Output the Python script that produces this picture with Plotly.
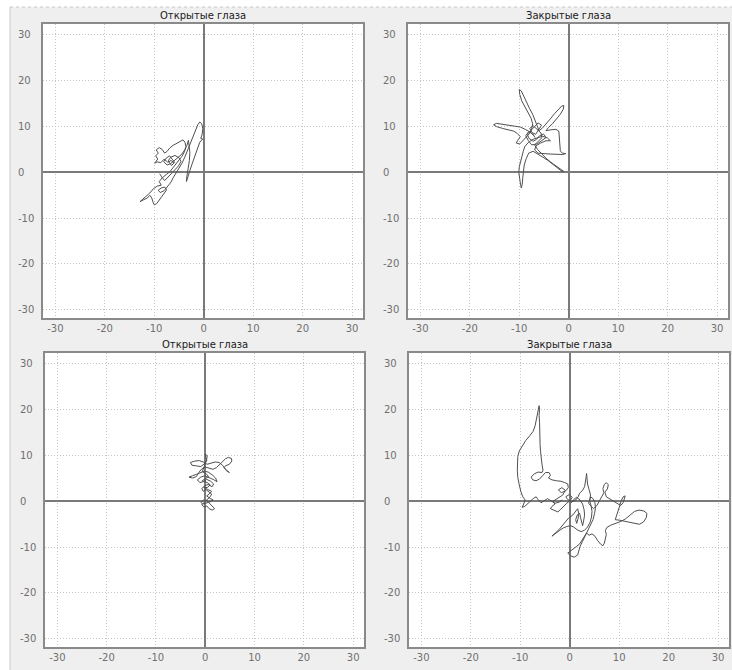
import plotly.graph_objects as go

# Stabilogram traces (centre-of-pressure path), mm
titles = ["Открытые глаза", "Закрытые глаза", "Открытые глаза", "Закрытые глаза"]
tick_vals = [-30, -20, -10, 0, 10, 20, 30]
tick_text = ["-30", "-20", "-10", "0", "10", "20", "30"]

# top-left: eyes open, session 1 (x, y)
tl_path = [(-6.0, 2.0), (-6.6, 2.6), (-7.3, 2.2), (-8.0, 2.9), (-8.7, 2.1), (-9.4, 2.3), (-9.9, 2.0),
           (-9.3, 2.9), (-9.7, 3.6), (-9.2, 4.2), (-9.6, 4.9), (-9.0, 5.4), (-8.4, 5.0), (-7.9, 4.2),
           (-7.4, 4.6), (-6.9, 5.3), (-6.2, 5.9), (-5.5, 6.3), (-4.8, 6.8), (-4.2, 7.1), (-3.8, 6.6),
           (-3.6, 5.6), (-3.9, 4.5), (-4.4, 3.5), (-5.0, 2.7), (-5.6, 1.8), (-6.2, 1.0), (-6.8, 0.2),
           (-7.6, -0.5), (-8.4, -1.2), (-9.0, -2.0), (-8.6, -2.8), (-9.4, -3.0), (-10.2, -3.6),
           (-10.9, -4.5), (-11.7, -5.3), (-12.5, -6.0), (-12.9, -6.4), (-12.2, -6.0), (-11.4, -5.6),
           (-10.9, -5.0), (-10.5, -5.6), (-10.3, -6.4), (-10.0, -7.1), (-9.5, -6.8), (-9.0, -6.1),
           (-8.6, -5.4), (-8.0, -4.6), (-7.5, -3.8), (-7.9, -3.2), (-8.6, -3.4), (-9.2, -3.9),
           (-8.8, -4.4), (-8.0, -4.0), (-7.2, -3.0), (-6.6, -2.1), (-6.2, -1.2), (-5.6, -0.2),
           (-5.0, 0.8), (-4.4, 2.0), (-3.8, 3.4), (-3.2, 5.0), (-2.6, 6.6), (-2.1, 8.0), (-1.6, 9.4),
           (-1.2, 10.4), (-0.8, 11.0), (-0.4, 10.6), (-0.2, 9.6), (-0.3, 8.4), (-0.6, 7.4), (-0.2, 7.3),
           (-0.8, 6.6), (-1.3, 5.2), (-1.8, 3.6), (-2.3, 2.0), (-2.8, 0.4), (-3.2, -1.0), (-3.5, -2.0),
           (-3.4, -0.8), (-3.1, 0.9), (-2.9, 2.6), (-2.8, 4.4), (-2.9, 6.0), (-3.1, 7.0), (-3.4, 5.9),
           (-3.9, 4.8), (-4.6, 3.8), (-5.3, 3.1), (-6.0, 2.6), (-6.7, 1.9), (-7.4, 1.6), (-8.1, 2.3),
           (-7.6, 3.1), (-6.9, 3.6), (-6.4, 2.9), (-5.9, 2.2), (-6.5, 1.5), (-7.2, 2.5), (-6.7, 3.3),
           (-5.8, 3.7), (-5.0, 3.2), (-4.6, 2.4), (-5.1, 1.4), (-5.8, 0.6), (-6.6, -0.3), (-7.3, -1.1),
           (-7.9, -1.8), (-8.5, -1.0), (-8.9, -0.3)]

# top-right: eyes closed, session 1
tr_path = [(-7.0, 8.0), (-7.8, 8.8), (-8.8, 9.4), (-9.8, 9.9), (-11.0, 10.1), (-12.2, 10.3), (-13.5, 10.6),
           (-14.6, 10.7), (-15.2, 10.4), (-14.6, 10.0), (-13.4, 9.6), (-12.2, 9.3), (-11.1, 9.0),
           (-10.4, 8.5), (-9.8, 7.8), (-10.3, 7.0), (-10.6, 6.4), (-9.9, 6.2), (-9.3, 6.9), (-8.7, 7.6),
           (-8.0, 8.4), (-7.5, 9.4), (-7.3, 10.6), (-7.6, 11.8), (-8.2, 13.0), (-8.9, 14.3), (-9.5, 15.6),
           (-9.9, 17.0), (-10.0, 18.1), (-9.6, 17.8), (-9.1, 16.6), (-8.5, 15.2), (-7.9, 13.9), (-7.3, 12.7),
           (-6.8, 11.4), (-6.4, 10.2), (-6.0, 9.1), (-5.3, 9.7), (-4.5, 10.6), (-3.7, 11.7), (-2.9, 12.8),
           (-2.1, 13.8), (-1.4, 14.5), (-1.0, 14.6), (-1.1, 13.8), (-1.7, 12.7), (-2.5, 11.6), (-3.3, 10.6),
           (-4.1, 9.8), (-4.6, 9.1), (-3.6, 9.3), (-2.6, 9.4), (-2.0, 9.0), (-1.9, 8.0), (-1.8, 6.9),
           (-1.7, 5.8), (-1.7, 4.7), (-1.3, 4.2), (-0.6, 4.1), (-1.2, 3.9), (-2.4, 3.9), (-3.7, 4.0),
           (-5.0, 4.1), (-6.2, 4.2), (-6.9, 4.9), (-6.6, 5.8), (-5.7, 6.4), (-4.6, 6.9), (-3.7, 6.9),
           (-4.3, 7.5), (-5.3, 7.9), (-6.3, 7.6), (-7.3, 7.2), (-8.2, 6.5), (-8.9, 5.6), (-9.2, 4.6),
           (-9.5, 3.5), (-9.8, 2.4), (-10.0, 1.2), (-10.1, 0.0), (-10.0, -1.1), (-9.8, -2.2), (-9.6, -3.4),
           (-9.4, -2.6), (-9.3, -1.2), (-9.2, 0.2), (-9.0, 1.6), (-8.6, 3.0), (-8.1, 4.2), (-7.2, 4.6),
           (-6.2, 4.0), (-5.2, 3.3), (-4.2, 2.6), (-3.2, 1.8), (-2.3, 1.0), (-1.6, 0.4), (-1.0, 0.2),
           (-1.7, 0.7), (-2.6, 1.4), (-3.6, 2.2), (-4.6, 3.1), (-5.5, 4.0), (-6.3, 5.0), (-6.9, 6.0),
           (-6.2, 6.8), (-5.4, 7.6), (-5.6, 8.6), (-6.4, 9.4), (-7.2, 10.2), (-7.9, 9.6), (-7.4, 8.7),
           (-6.7, 8.3), (-6.1, 9.3), (-5.5, 10.3), (-6.2, 10.8), (-7.0, 10.0), (-7.8, 9.0), (-8.4, 8.3),
           (-8.0, 7.4), (-7.2, 6.8), (-6.5, 7.2), (-5.9, 8.0), (-5.1, 8.4), (-4.6, 7.6), (-5.4, 6.9),
           (-6.4, 6.2), (-7.5, 6.0), (-8.2, 7.0), (-8.7, 8.0), (-8.1, 8.9), (-7.3, 8.4), (-6.8, 7.6)]

# bottom-left: eyes open, session 2
bl_path = [(0.5, 0.0), (1.0, -0.6), (1.6, -1.1), (1.9, -1.6), (1.4, -1.9), (0.8, -1.6), (0.3, -1.0),
           (-0.3, -1.2), (-0.7, -0.7), (-0.2, -0.2), (0.4, 0.4), (1.0, 1.0), (1.3, 1.6), (0.7, 2.1),
           (0.1, 2.6), (-0.4, 2.2), (-0.7, 2.8), (-0.1, 3.4), (0.6, 3.7), (1.4, 3.2), (1.7, 3.8),
           (1.1, 4.4), (0.3, 4.8), (-0.4, 4.3), (-1.1, 4.1), (-1.6, 4.7), (-0.9, 5.3), (-0.1, 5.6),
           (0.8, 5.2), (1.6, 4.8), (2.4, 4.3), (2.1, 5.1), (1.4, 5.8), (0.6, 6.4), (-0.2, 6.6),
           (-1.0, 6.2), (-1.8, 5.9), (-2.6, 5.6), (-3.3, 5.3), (-2.6, 5.1), (-1.8, 5.4), (-1.3, 6.3),
           (-0.8, 7.0), (0.0, 7.5), (0.8, 7.3), (1.6, 7.0), (2.3, 7.4), (2.9, 8.1), (3.5, 8.8),
           (4.1, 9.3), (4.7, 9.6), (5.3, 9.4), (5.4, 8.8), (4.9, 8.1), (4.2, 7.8), (3.8, 7.4),
           (4.3, 6.8), (4.9, 6.3), (4.3, 6.7), (3.5, 7.9), (2.8, 8.5), (2.0, 8.6), (1.2, 8.3),
           (0.4, 8.1), (-0.4, 8.6), (-1.2, 8.9), (-2.1, 8.8), (-3.0, 8.5), (-2.7, 7.9), (-1.8, 7.7),
           (-0.9, 7.6), (-0.2, 8.2), (0.3, 8.9), (0.1, 9.6), (0.0, 10.3), (0.4, 10.0), (0.3, 9.2),
           (0.0, 8.2), (-0.4, 7.3), (-0.6, 6.5), (0.2, 6.0), (0.7, 5.4), (-0.1, 4.9), (-0.6, 4.5),
           (0.4, 4.1), (1.0, 3.6), (0.4, 3.0), (-0.3, 3.1), (0.5, 2.6), (1.3, 2.2), (0.8, 1.6),
           (0.3, 1.2), (0.9, 0.7), (1.6, 0.3), (1.0, -0.1), (0.2, -0.3), (-0.5, -0.6), (-0.9, -0.2),
           (-0.3, 0.3), (0.5, 0.1)]

# bottom-right: eyes closed, session 2
br_path = [(-1.5, 0.3), (-2.2, -0.2), (-3.0, -0.4), (-3.8, 0.2), (-4.5, 0.6), (-5.2, 0.1), (-5.8, -0.3),
           (-6.4, 0.4), (-6.8, 1.0), (-7.4, 0.6), (-7.9, 0.1), (-8.5, -0.6), (-9.1, -1.1), (-9.6, -1.3),
           (-9.3, -0.4), (-9.0, 0.3), (-9.5, 1.0), (-9.9, 2.2), (-10.2, 3.6), (-10.5, 5.2), (-10.6, 6.8),
           (-10.6, 8.4), (-10.5, 9.8), (-10.2, 11.0), (-9.6, 12.2), (-8.9, 13.3), (-8.1, 14.3),
           (-7.4, 15.3), (-7.0, 16.5), (-6.8, 17.8), (-6.6, 19.2), (-6.4, 20.3), (-6.2, 20.9),
           (-6.1, 20.1), (-6.2, 18.8), (-6.1, 17.2), (-6.1, 15.6), (-6.0, 14.0), (-6.0, 12.4),
           (-5.9, 10.9), (-5.8, 9.4), (-5.6, 8.0), (-5.4, 6.8), (-5.6, 6.3), (-6.4, 6.4), (-7.2, 6.0),
           (-7.8, 5.3), (-7.5, 4.7), (-6.8, 4.5), (-6.1, 4.9), (-5.5, 5.6), (-4.9, 6.3), (-4.2, 6.3),
           (-3.9, 5.7), (-4.3, 5.1), (-3.6, 4.7), (-2.7, 4.5), (-1.8, 4.4), (-1.0, 4.1), (-0.4, 3.8),
           (-0.3, 3.0), (-0.8, 2.3), (-1.7, 1.9), (-2.3, 2.5), (-1.6, 3.0), (-0.9, 2.4), (-1.4, 1.4),
           (-2.2, 0.9), (-2.9, 0.5), (-3.4, 0.0), (-3.0, -0.6), (-3.6, -1.1), (-3.9, -1.6), (-3.2, -2.0),
           (-2.4, -2.3), (-1.8, -1.7), (-1.2, -1.0), (-0.6, -0.4), (0.1, 0.2), (0.5, 0.9), (-0.1, 1.5),
           (-0.8, 1.0), (-0.4, 0.4), (0.4, -0.1), (1.2, 0.3), (1.7, 1.0), (2.0, 1.8), (2.6, 2.4),
           (3.0, 3.2), (3.2, 4.2), (3.3, 5.2), (3.4, 6.1), (3.5, 5.0), (3.6, 3.8), (3.9, 2.6),
           (4.2, 1.4), (4.1, 0.4), (3.8, -0.4), (4.3, -1.0), (4.8, -1.6), (5.5, -0.9), (6.0, 0.0),
           (6.5, 0.9), (6.9, 1.9), (6.7, 2.8), (7.0, 3.7), (7.4, 4.1), (7.8, 3.6), (7.6, 2.7),
           (7.1, 2.0), (7.4, 1.0), (8.1, 0.5), (8.9, 0.0), (9.6, -0.5), (10.3, -0.9), (10.8, -0.3),
           (11.1, 0.5), (11.2, 1.2), (10.8, 1.0), (10.4, 0.1), (10.1, -1.0), (9.8, -2.2), (9.4, -3.2),
           (9.2, -4.0), (10.0, -4.1), (11.0, -4.3), (12.0, -4.6), (13.0, -4.8), (14.1, -5.0),
           (14.9, -4.5), (15.5, -3.5), (15.6, -2.6), (15.0, -2.1), (14.0, -1.9), (13.1, -2.2),
           (12.2, -3.0), (11.3, -3.8), (10.3, -4.4), (9.2, -4.8), (8.3, -5.2), (7.5, -5.7), (7.2, -6.4),
           (7.4, -7.2), (7.2, -8.2), (7.0, -9.1), (6.7, -9.7), (6.2, -9.3), (5.6, -8.5), (5.1, -7.6),
           (4.5, -7.1), (3.9, -7.4), (3.4, -6.9), (3.0, -7.6), (2.6, -8.5), (2.0, -9.3), (1.3, -9.9),
           (0.6, -10.5), (0.0, -11.0), (-0.4, -11.3), (0.2, -11.9), (0.9, -12.2), (1.6, -11.7),
           (1.8, -10.8), (2.1, -9.8), (2.6, -8.7), (3.1, -7.6), (3.7, -6.4), (4.2, -5.2), (4.7, -4.0),
           (5.0, -2.7), (5.2, -1.5), (5.1, -0.3), (4.7, 0.6), (4.2, 1.0), (4.0, 0.2), (4.3, -0.9),
           (4.5, -2.2), (4.4, -3.4), (4.1, -4.6), (3.6, -5.6), (3.0, -6.3), (2.3, -6.6), (1.5, -6.2),
           (0.8, -5.6), (0.1, -5.3), (-0.6, -5.5), (-1.3, -5.8), (-2.0, -6.3), (-2.7, -6.9), (-3.3, -7.4),
           (-3.6, -7.6), (-3.0, -7.0), (-2.2, -6.2), (-1.5, -5.3), (-0.9, -4.4), (-0.2, -3.6), (0.6, -3.0),
           (1.2, -2.3), (1.6, -1.6), (1.8, -2.6), (1.7, -3.7), (1.4, -4.8), (1.2, -4.0), (1.5, -3.0),
           (2.0, -2.6), (2.2, -3.6), (2.4, -4.7), (2.6, -5.3), (2.8, -4.3), (3.0, -3.0), (2.9, -1.8),
           (2.6, -0.6), (2.1, 0.3), (1.4, 0.9), (0.8, 0.4), (0.2, -0.4)]

paths = [tl_path, tr_path, bl_path, br_path]

W, H = 732, 670
# panel frames in pixels: (left, right, top, bottom)
frames = [(43, 363, 24, 318), (408, 728, 24, 318), (45, 364, 353, 647), (409, 729, 353, 647)]
x_range = [-32.5, 32.2]
y_range = [-31.8, 32.4]

fig = go.Figure()
font_family = "DejaVu Sans"
label_color = "#707070"
annotations = []

for i, (path, (l, r, t, b)) in enumerate(zip(paths, frames)):
    n = "" if i == 0 else str(i + 1)
    xs = [p[0] for p in path]
    ys = [p[1] for p in path]
    fig.add_trace(go.Scatter(x=xs, y=ys, mode="lines", xaxis="x" + n, yaxis="y" + n,
                             line=dict(color="#505050", width=1), hoverinfo="skip",
                             showlegend=False))
    common = dict(tickvals=tick_vals, ticktext=tick_text, showgrid=True,
                  gridcolor="#c4c4c4", griddash="1px,2px", gridwidth=1,
                  zeroline=True, zerolinecolor="#7a7a7a", zerolinewidth=2,
                  showline=True, linecolor="#8a8a8a", linewidth=2, mirror=True,
                  ticks="", fixedrange=True,
                  tickfont=dict(family=font_family, size=10, color=label_color))
    xa = dict(common, range=x_range, domain=[l / W, r / W], anchor="y" + n)
    ya = dict(common, range=y_range, domain=[1 - b / H, 1 - t / H], anchor="x" + n,
              showticklabels=False)
    fig.update_layout(**{"xaxis" + n: xa, "yaxis" + n: ya})
    # y tick labels, left-aligned in the margin
    for v, s in zip(tick_vals, tick_text):
        annotations.append(dict(x=(l - 27) / W, xref="paper", y=v, yref="y" + n,
                                text=s, showarrow=False, xanchor="left", yanchor="middle",
                                font=dict(family=font_family, size=10, color=label_color)))
    # panel title
    annotations.append(dict(x=(l + r) / 2 / W, xref="paper", y=1 - (t - 1) / H, yref="paper",
                            text=titles[i], showarrow=False, xanchor="center", yanchor="bottom",
                            font=dict(family=font_family, size=10, color="#1a1a1a")))

shapes = [
    dict(type="rect", xref="paper", yref="paper", x0=0, x1=1, y0=1 - 7 / H, y1=1,
         fillcolor="white", line=dict(width=0), layer="above"),
    dict(type="rect", xref="paper", yref="paper", x0=0, x1=10 / W, y0=0, y1=1,
         fillcolor="white", line=dict(width=0), layer="above"),
    dict(type="line", xref="paper", yref="paper", x0=10 / W, x1=1, y0=1 - 7 / H, y1=1 - 7 / H,
         line=dict(color="#c8c8c8", width=1, dash="dot")),
    dict(type="line", xref="paper", yref="paper", x0=10 / W, x1=10 / W, y0=0, y1=1 - 7 / H,
         line=dict(color="#c8c8c8", width=1)),
]

fig.update_layout(width=W, height=H, margin=dict(l=0, r=0, t=0, b=0),
                  paper_bgcolor="#efefef", plot_bgcolor="white",
                  annotations=annotations, shapes=shapes, showlegend=False)

fig.write_html("out.html", config={"displayModeBar": False})
